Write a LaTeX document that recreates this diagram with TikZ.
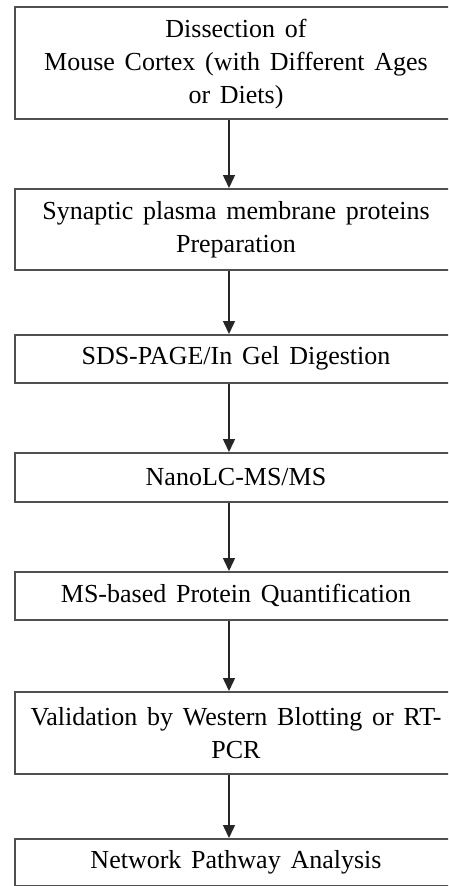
\documentclass[tikz,border=0pt]{standalone}
\usepackage{fontspec}
\setmainfont{Liberation Serif}[WordSpace=1.5]
\usetikzlibrary{arrows.meta}
\definecolor{boxline}{RGB}{80,80,80}
\begin{document}
\begin{tikzpicture}[x=1pt,y=-1pt,
  stepbox/.style={draw=boxline, line width=1.8pt, fill=white, rectangle, anchor=north west,
    minimum width=466pt, inner sep=0pt, align=center,
    font=\fontsize{26}{33}\selectfont, text=black},
  txt/.style={font=\fontsize{26}{33}\selectfont, align=center, inner sep=0pt},
  arr/.style={draw=black!85, line width=1.5pt, -{Triangle[length=13pt,width=12pt]}}]
\useasboundingbox (0,0) rectangle (448,886);
\clip (0,0) rectangle (448,886);
\node[stepbox, minimum height=112pt] (b1) at (14,6) {};
\node[stepbox, minimum height=81pt] (b2) at (14,188) {};
\node[stepbox, minimum height=48pt] (b3) at (14,334) {};
\node[stepbox, minimum height=49pt] (b4) at (14,452) {};
\node[stepbox, minimum height=48pt] (b5) at (14,571) {};
\node[stepbox, minimum height=82pt] (b6) at (14,691) {};
\node[stepbox, minimum height=47pt] (b7) at (14,838) {};
\node[txt] (t1) at (236,64) {Dissection of\\Mouse Cortex (with Different Ages\\or Diets)};
\node[txt] (t2) at (236,230) {Synaptic plasma membrane proteins\\Preparation};
\node[txt] (t3) at (236,358) {SDS-PAGE/In Gel Digestion};
\node[txt] (t4) at (236,477) {NanoLC-MS/MS};
\node[txt] (t5) at (236,595) {MS-based Protein Quantification};
\node[txt] (t6) at (236,733) {Validation by Western Blotting or RT-\\PCR};
\node[txt] (t7) at (236,862) {Network Pathway Analysis};
\coordinate (ax) at (229,0);
\draw[arr] (b1.south -| ax) -- (b2.north -| ax);
\draw[arr] (b2.south -| ax) -- (b3.north -| ax);
\draw[arr] (b3.south -| ax) -- (b4.north -| ax);
\draw[arr] (b4.south -| ax) -- (b5.north -| ax);
\draw[arr] (b5.south -| ax) -- (b6.north -| ax);
\draw[arr] (b6.south -| ax) -- (b7.north -| ax);
\end{tikzpicture}
\end{document}
